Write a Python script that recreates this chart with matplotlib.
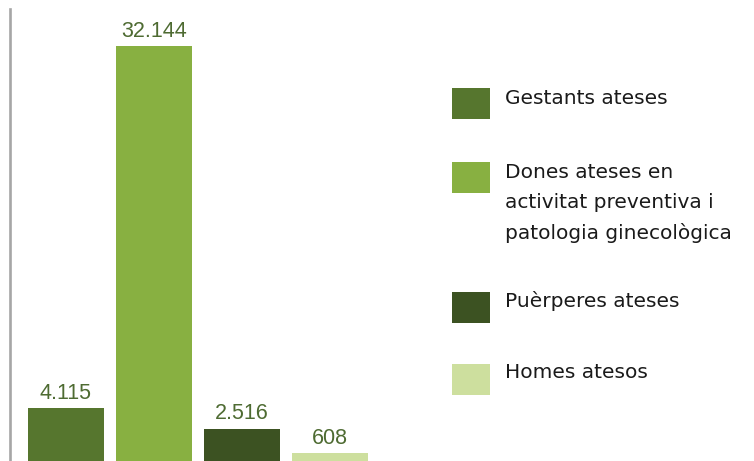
import matplotlib
matplotlib.use("Agg")
import matplotlib.pyplot as plt
from matplotlib.patches import Rectangle

W, H = 754, 461

categories = ["Gestants ateses",
              "Dones ateses en\nactivitat preventiva i\npatologia ginecològica",
              "Puèrperes ateses",
              "Homes atesos"]
values = [4115, 32144, 2516, 608]
value_labels = ["4.115", "32.144", "2.516", "608"]
colors = ["#56762E", "#88B041", "#3C5222", "#CDDF9E"]

fig = plt.figure(figsize=(W / 100, H / 100), dpi=100)

# plot area: left spine at x=10px, top at 9px
ax = fig.add_axes([10 / W, 0, 410 / W, 452 / H])
x = list(range(len(values)))
ax.bar(x, values, width=76 / 88, color=colors, linewidth=0)
ax.set_xlim((10 - 66) / 88, (420 - 66) / 88)
ax.set_ylim(0, 32144 * 452 / 415)

for xi, v, lab in zip(x, values, value_labels):
    ax.annotate(lab, (xi, v), xytext=(0, 3), textcoords="offset points",
                ha="center", va="bottom", fontsize=15.5, color="#4E6B32",
                family="Liberation Sans")

for s in ["top", "right", "bottom"]:
    ax.spines[s].set_visible(False)
ax.spines["left"].set_color("#A6A6A6")
ax.spines["left"].set_linewidth(1.9)
ax.set_xticks([])
ax.set_yticks([])

# legend drawn by hand, squares 38x31 px
sq_tops = [88, 162, 292, 364]
text_y = [98, 203, 301, 373]
for top, ty, lab, c in zip(sq_tops, text_y, categories, colors):
    fig.patches.append(Rectangle((452 / W, 1 - (top + 31) / H), 38 / W, 31 / H,
                                 transform=fig.transFigure, facecolor=c,
                                 edgecolor="none"))
    fig.text(505 / W, 1 - ty / H, lab, ha="left", va="center", fontsize=14.5,
             color="#1a1a1a", linespacing=1.68, family="DejaVu Sans")

fig.savefig("out.png", dpi=100)
